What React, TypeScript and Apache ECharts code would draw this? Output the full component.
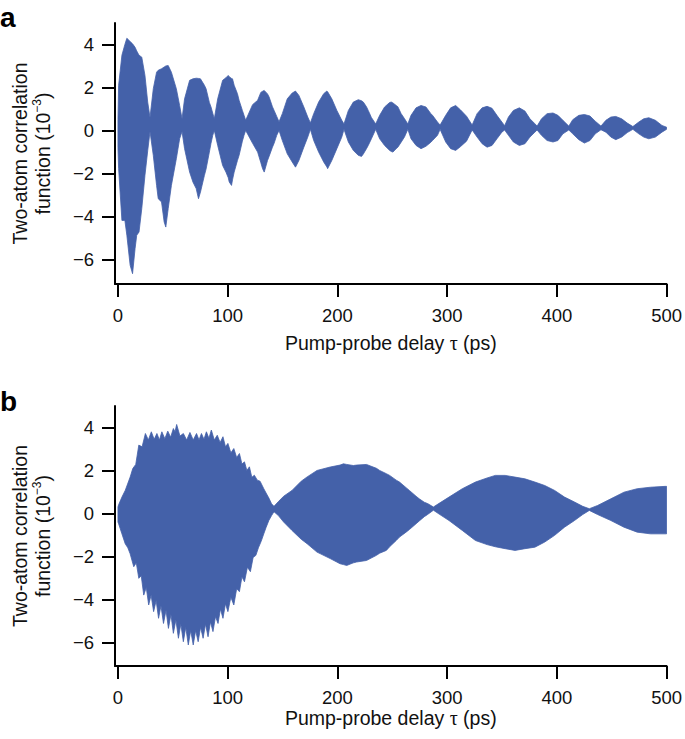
import React, { useEffect, useRef } from "react";
import * as echarts from "echarts";

const xTicks = [0, 100, 200, 300, 400, 500];
const yTicks = [-6, -4, -2, 0, 2, 4];

// Panel a: envelope of the two-atom correlation signal (t in ps, values in 1e-3)
const tA = [0, 0.6, 3.6, 6.3, 8.1, 11.1, 13.3, 15.6, 17.1, 19.2, 21.7, 24.6, 27.1, 29.2, 32.2, 35.2, 36.7, 39.7, 42.1, 43.6, 45.8, 48.7, 53.2, 56.2, 58.4, 60.7, 65.3, 68.3, 71.3, 73.4, 75.2, 78.8, 80.3, 83.3, 84.8, 86.4, 87.8, 90.9, 95.4, 98.4, 100.5, 101.4, 103.5, 104.4, 105.9, 108.9, 110.4, 113.4, 114.9, 116.4, 122.7, 127.3, 130.2, 131.8, 133.3, 136.3, 137.8, 140.8, 142.3, 144.7, 146.8, 149.8, 154.3, 158.8, 161.8, 164.9, 169.4, 173.0, 175.4, 178.4, 182.9, 187.5, 190.4, 191.1, 194.9, 199.5, 204.0, 206.0, 210.0, 214.5, 219.0, 222.0, 223.6, 226.5, 228.1, 231.0, 234.9, 238.5, 243.0, 247.6, 249.1, 250.6, 253.6, 255.1, 258.1, 261.1, 264.2, 267.1, 271.7, 276.2, 280.7, 285.2, 286.7, 291.2, 293.6, 298.7, 303.2, 307.8, 312.3, 317.7, 322.8, 327.3, 331.9, 336.4, 340.9, 345.4, 349.9, 352.4, 355.9, 360.4, 365.8, 370.9, 375.5, 380.0, 382.0, 386.0, 391.1, 396.5, 401.0, 405.5, 410.9, 414.5, 420.0, 425.1, 430.2, 435.0, 440.2, 444.7, 449.2, 453.7, 459.1, 464.2, 469.3, 474.7, 479.2, 483.8, 489.8, 495.8, 500];
const upperA = [0.5, 2.1, 3.5, 4.0, 4.29, 4.14, 4.03, 3.87, 3.7, 3.5, 3.41, 2.56, 1.32, 0.6, 1.94, 2.71, 2.8, 2.87, 2.95, 3.0, 3.02, 2.71, 1.94, 1.16, 0.54, 1.47, 2.33, 2.4, 2.43, 2.42, 2.4, 2.1, 1.94, 1.3, 1.09, 0.8, 0.54, 1.47, 2.33, 2.45, 2.56, 2.5, 2.42, 2.4, 2.1, 1.71, 1.4, 0.93, 0.7, 0.47, 1.2, 1.4, 1.77, 1.82, 1.86, 1.7, 1.55, 1.1, 0.93, 0.65, 0.4, 0.78, 1.47, 1.74, 1.83, 1.63, 1.09, 0.62, 0.35, 0.78, 1.32, 1.71, 1.83, 1.8, 1.47, 0.93, 0.47, 0.3, 0.93, 1.32, 1.43, 1.38, 1.32, 1.1, 0.93, 0.6, 0.3, 0.7, 1.09, 1.3, 1.32, 1.28, 1.16, 1.1, 0.78, 0.55, 0.3, 0.7, 1.05, 1.16, 1.09, 0.78, 0.7, 0.39, 0.25, 0.7, 1.05, 1.16, 0.95, 0.66, 0.25, 0.78, 1.05, 1.12, 1.03, 0.7, 0.39, 0.22, 0.62, 0.93, 1.05, 0.9, 0.54, 0.31, 0.2, 0.54, 0.78, 0.81, 0.7, 0.47, 0.2, 0.5, 0.7, 0.74, 0.67, 0.43, 0.2, 0.47, 0.62, 0.65, 0.54, 0.34, 0.18, 0.39, 0.54, 0.59, 0.47, 0.23, 0.15];
const lowerA = [-0.8, -1.77, -4.19, -4.19, -4.88, -6.28, -6.67, -5.5, -4.88, -4.73, -3.64, -2.09, -0.95, -0.05, -1.16, -2.56, -3.18, -3.33, -4.26, -4.5, -3.64, -2.56, -1.32, -0.39, -0.05, -0.85, -1.94, -2.4, -2.71, -3.18, -2.87, -2.09, -1.8, -1.01, -0.6, -0.23, 0.0, -0.7, -1.63, -1.94, -2.2, -2.4, -2.56, -2.3, -1.94, -1.4, -1.16, -0.5, -0.23, 0.0, -0.6, -1.01, -1.5, -1.78, -1.94, -1.4, -1.2, -0.78, -0.6, -0.23, 0.0, -0.47, -1.09, -1.47, -1.71, -1.4, -0.78, -0.31, 0.05, -0.47, -1.01, -1.47, -1.7, -1.78, -1.4, -0.85, -0.31, 0.05, -0.54, -0.93, -1.16, -1.21, -1.1, -0.85, -0.7, -0.39, 0.05, -0.39, -0.7, -0.93, -0.98, -1.01, -0.85, -0.78, -0.55, -0.31, 0.05, -0.39, -0.7, -0.85, -0.74, -0.55, -0.47, -0.23, 0.05, -0.54, -0.85, -0.93, -0.75, -0.5, 0.02, -0.31, -0.62, -0.78, -0.7, -0.39, -0.08, 0.02, -0.23, -0.54, -0.7, -0.62, -0.31, -0.08, 0.02, -0.23, -0.47, -0.54, -0.47, -0.16, 0.02, -0.16, -0.43, -0.59, -0.47, -0.16, 0.03, -0.08, -0.31, -0.43, -0.31, -0.1, 0.05, -0.16, -0.31, -0.39, -0.31, -0.08, 0.05];

// Panel b: upper edge (tips and notches of the fast ripple) and lower edge
const tUpB = [0, 0.6, 3.6, 6.6, 11.1, 13.5, 16.2, 19.0, 22.0, 25.0, 27.7, 30.4, 33.0, 35.5, 37.8, 40.0, 42.7, 45.4, 48.0, 50.5, 52.0, 53.5, 56.5, 59.6, 62.6, 65.6, 68.6, 71.6, 73.9, 76.1, 78.4, 80.6, 82.9, 85.1, 87.8, 90.5, 93.1, 95.7, 98.0, 100.2, 102.9, 105.6, 108.2, 110.7, 113.0, 115.3, 117.5, 119.8, 122.0, 124.3, 127.0, 129.5, 132.9, 135.0, 137.5, 140.0, 142.2, 146.2, 151.0, 158.6, 167.0, 172.4, 181.4, 193.4, 202.4, 205.5, 208.5, 214.5, 217.5, 226.5, 235.6, 238.5, 244.6, 247.6, 253.6, 256.6, 262.6, 265.6, 271.7, 274.6, 279.2, 282.2, 287.5, 292.7, 301.7, 313.8, 325.8, 336.4, 343.9, 352.9, 361.9, 370.9, 380.0, 389.0, 398.0, 407.0, 416.1, 423.6, 429.6, 437.1, 449.2, 461.2, 473.2, 485.3, 498.8, 500];
const upB = [0.3, 0.4, 0.76, 1.07, 1.69, 2.09, 2.28, 3.18, 3.1, 3.72, 3.42, 3.8, 3.45, 3.72, 3.42, 3.8, 3.48, 3.83, 3.55, 3.95, 3.8, 4.14, 3.6, 3.72, 3.42, 3.77, 3.42, 3.72, 3.42, 3.72, 3.45, 3.8, 3.5, 3.88, 3.42, 3.64, 3.3, 3.57, 3.1, 3.26, 2.82, 3.02, 2.6, 2.79, 2.3, 2.4, 2.0, 2.17, 1.68, 1.78, 1.55, 1.5, 1.15, 0.95, 0.72, 0.45, 0.33, 0.55, 0.8, 1.07, 1.5, 1.7, 2.0, 2.16, 2.25, 2.31, 2.28, 2.23, 2.25, 2.28, 2.1, 2.0, 1.85, 1.77, 1.55, 1.46, 1.2, 1.07, 0.8, 0.68, 0.52, 0.46, 0.3, 0.47, 0.76, 1.15, 1.46, 1.65, 1.77, 1.77, 1.69, 1.61, 1.46, 1.3, 1.07, 0.76, 0.53, 0.33, 0.22, 0.37, 0.68, 0.99, 1.15, 1.22, 1.26, 1.26];
const tLoB = [0, 0.6, 3.6, 6.6, 9.0, 11.1, 14.4, 16.7, 19.0, 21.2, 23.5, 25.8, 28.0, 30.2, 32.5, 34.8, 37.0, 39.2, 41.5, 43.8, 46.0, 48.3, 50.5, 52.8, 55.1, 57.3, 59.6, 61.8, 64.1, 66.3, 68.6, 70.8, 73.1, 75.3, 77.6, 79.8, 82.1, 84.3, 86.6, 88.9, 91.2, 93.4, 95.7, 98.0, 100.2, 102.9, 105.6, 108.2, 110.7, 113.0, 115.3, 118.0, 120.7, 123.2, 125.7, 128.0, 130.5, 132.9, 135.0, 137.5, 140.0, 142.2, 146.2, 151.0, 158.6, 167.0, 172.4, 181.4, 193.4, 202.4, 205.5, 208.5, 214.5, 217.5, 226.5, 235.6, 238.5, 244.6, 247.6, 253.6, 256.6, 262.6, 265.6, 271.7, 274.6, 279.2, 282.2, 287.5, 292.7, 301.7, 313.8, 325.8, 336.4, 343.9, 352.9, 361.9, 370.9, 380.0, 389.0, 398.0, 407.0, 416.1, 423.6, 429.6, 437.1, 449.2, 461.2, 473.2, 485.3, 498.8, 500];
const loB = [-0.4, -0.48, -0.95, -1.41, -1.6, -1.88, -2.48, -2.3, -3.02, -2.9, -3.8, -3.45, -4.26, -3.8, -4.57, -4.05, -4.88, -4.3, -5.12, -4.5, -5.35, -4.7, -5.58, -4.95, -5.81, -5.15, -5.97, -5.3, -6.12, -5.45, -6.12, -5.45, -5.97, -5.3, -5.81, -5.15, -5.74, -5.05, -5.5, -4.8, -5.12, -4.45, -4.88, -4.2, -4.57, -3.9, -4.26, -3.5, -3.64, -2.95, -3.18, -2.5, -2.71, -2.05, -1.95, -1.6, -1.3, -0.95, -0.65, -0.33, -0.1, 0.08, -0.1, -0.4, -0.79, -1.2, -1.41, -1.8, -2.1, -2.34, -2.38, -2.42, -2.3, -2.26, -2.19, -1.95, -1.85, -1.72, -1.55, -1.26, -1.1, -0.87, -0.75, -0.48, -0.35, -0.15, -0.05, 0.15, -0.03, -0.33, -0.79, -1.26, -1.45, -1.55, -1.64, -1.72, -1.64, -1.57, -1.33, -1.02, -0.64, -0.33, -0.05, 0.14, -0.05, -0.33, -0.64, -0.87, -0.95, -0.95, -0.95];

const BLUE = "#4461a9";
const FONT = "'Liberation Sans', Arial, Helvetica, sans-serif";
const fmt = (v: number) => (v < 0 ? "\u2212" + Math.abs(v) : String(v));

// One filled band between an upper and a lower edge, placed through the axis scales.
// Each data row is [t, value, edge] with edge 0 = upper, 1 = lower.
function bandSeries(idx: number, tU: number[], u: number[], tL: number[], l: number[]) {
  const rows = tU.map((t, i) => [t, u[i], 0]).concat(tL.map((t, i) => [t, l[i], 1]));
  return {
    type: "custom",
    xAxisIndex: idx,
    yAxisIndex: idx,
    silent: true,
    clip: true,
    data: rows,
    encode: { x: 0, y: 1 },
    renderItem: (params: any, api: any) => {
      if (params.dataIndexInside !== 0) return null;
      const n = params.dataInsideLength;
      const top: number[][] = [];
      const bottom: number[][] = [];
      for (let j = 0; j < n; j++) {
        const p = api.coord([api.value(0, j), api.value(1, j)]);
        if (api.value(2, j) === 0) top.push(p);
        else bottom.push(p);
      }
      return {
        type: "polygon",
        shape: { points: top.concat(bottom.reverse()) },
        style: { fill: BLUE, stroke: BLUE, lineWidth: 0.8 },
      };
    },
  };
}

function xAxisFor(idx: number, gap: number) {
  return {
    type: "value",
    gridIndex: idx,
    min: -2.7,
    max: 500,
    axisLine: { show: true, onZero: false, lineStyle: { color: "#000", width: 2 } },
    axisTick: { show: true, length: 13, customValues: xTicks, lineStyle: { color: "#000", width: 2 } },
    axisLabel: { customValues: xTicks, formatter: fmt, fontSize: 18.5, color: "#111", fontFamily: FONT, margin: 22 },
    splitLine: { show: false },
    name: "{t|Pump-probe delay }{g|\u03c4}{t| (ps)}",
    nameLocation: "middle",
    nameGap: gap,
    nameTextStyle: {
      rich: {
        t: { fontSize: 19.5, fontFamily: FONT, color: "#111" },
        g: { fontSize: 20, fontFamily: "'Liberation Serif', 'DejaVu Serif', serif", color: "#111" },
      },
    },
  };
}

function yAxisFor(idx: number, min: number) {
  return {
    type: "value",
    gridIndex: idx,
    min,
    max: 5,
    axisLine: { show: true, onZero: false, lineStyle: { color: "#000", width: 2 } },
    axisTick: { show: true, length: 13, customValues: yTicks, lineStyle: { color: "#000", width: 2 } },
    axisLabel: { customValues: yTicks, formatter: fmt, fontSize: 18.5, color: "#111", fontFamily: FONT, margin: 21 },
    splitLine: { show: false },
    name: "{t|Two-atom correlation}\n{t|function (10}{s|\u22123}{t|)}",
    nameLocation: "middle",
    nameGap: 61,
    nameTextStyle: {
      lineHeight: 23,
      rich: {
        t: { fontSize: 19.5, fontFamily: FONT, color: "#111", lineHeight: 23 },
        s: { fontSize: 12, fontFamily: FONT, color: "#111", verticalAlign: "top", lineHeight: 12 },
      },
    },
  };
}

export default function App() {
  const ref = useRef<HTMLDivElement>(null);
  useEffect(() => {
    if (!ref.current) return;
    const chart = echarts.init(ref.current, null, { renderer: "svg" });
    chart.setOption({
      animation: false,
      backgroundColor: "#fff",
      grid: [
        { left: 111, top: 23, width: 557, height: 261 },
        { left: 111, top: 406, width: 557, height: 260 },
      ],
      xAxis: [xAxisFor(0, 49), xAxisFor(1, 41)],
      yAxis: [yAxisFor(0, -7.15), yAxisFor(1, -7.1)],
      series: [bandSeries(0, tA, upperA, tA, lowerA), bandSeries(1, tUpB, upB, tLoB, loB)],
      graphic: [
        { type: "text", left: 0, top: 3, style: { text: "a", font: "bold 28px " + FONT, fill: "#000" } },
        { type: "text", left: 0, top: 387, style: { text: "b", font: "bold 28px " + FONT, fill: "#000" } },
      ],
    });
    return () => chart.dispose();
  }, []);
  return (
    <div
      ref={ref}
      style={{ position: "fixed", left: 0, top: 0, width: 685, height: 739, background: "#fff" }}
    />
  );
}
